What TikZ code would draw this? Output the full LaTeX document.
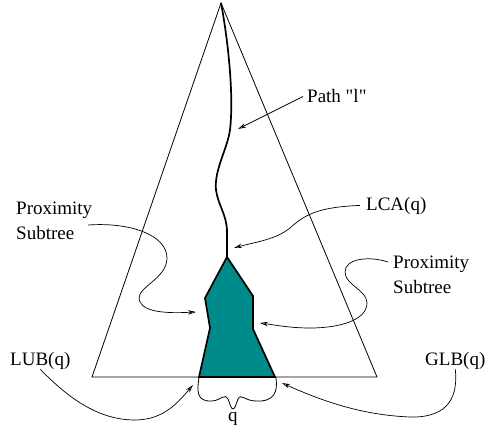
\documentclass[tikz,border=0pt]{standalone}
\usepackage{fontspec}
\setmainfont{Liberation Serif}
\usepackage{tikz}
\usetikzlibrary{arrows.meta,positioning}
\definecolor{subteal}{HTML}{008B8B}

\begin{document}
\begin{tikzpicture}[x=1pt,y=-1pt,
    lbl/.style={font=\fontsize{19}{25}\selectfont,anchor=base west,inner sep=0pt,align=left},
    callout/.style={line width=0.7pt,-{Stealth[open,length=8pt,width=4.5pt,inset=2.5pt]}}]
  \useasboundingbox (0,0) rectangle (486,430);
  % tree and proximity subtree
  \coordinate (apex) at (221,3); \coordinate (bl) at (92,377); \coordinate (br) at (377,377);
  \coordinate (lca) at (227,257);
  \draw[line width=0.8pt] (apex)--(bl)--(br)--cycle;
  \draw[line width=1.7pt] (apex) .. controls (228,40) and (234,95) .. (230,130)
    .. controls (227,150) and (214,170) .. (216,190)
    .. controls (218,205) and (227,215) .. (227,232) -- (lca);
  \draw[line width=1.7pt,fill=subteal] (lca)--(253,296)--(253,329)--(275,377)
    --(199,377)--(210,328)--(205,298)--cycle;
  % brace below q
  \draw[line width=0.8pt] (199,378) .. controls (197,390) and (196,402) .. (212,401)
    .. controls (222,400) and (224,393) .. (228,399) .. controls (230,404) and (231,409) .. (233,409)
    .. controls (235,409) and (236,404) .. (238,399) .. controls (241,393) and (245,401) .. (256,401)
    .. controls (274,402) and (278,392) .. (276,378);
  % labels
  \node[lbl] (pathlbl) at (307,103) {Path \textquotedbl l\textquotedbl};
  \node[lbl] (lcalbl) at (366,210) {LCA(q)};
  \node[lbl] (proxl) at (16,239) {Proximity\\Subtree};
  \node[lbl] (proxr) at (393,293) {Proximity\\Subtree};
  \node[lbl] (lublbl) at (10,365) {LUB(q)};
  \node[lbl] (glblbl) at (425,365) {GLB(q)};
  \node[lbl] (qlbl) at (228,421) {q};
  % arrow targets
  \coordinate (pathtip) at (238,129);
  \coordinate (lcatip) at (234,248);
  \coordinate (proxltip) at (196,312);
  \coordinate (proxrtip) at (260,323);
  \coordinate (lubtip) at (193,385);
  \coordinate (glbtip) at (282,383);
  \coordinate (proxlstart) at (88,225);
  \coordinate (proxrstart) at (388,262);
  % callouts
  \draw[callout] ([xshift=-4pt]pathlbl.west) -- (pathtip);
  \draw[callout] ([xshift=-6pt]lcalbl.west) .. controls (320,207) and (305,214) .. (290,228)
    .. controls (275,240) and (255,242) .. (lcatip);
  \draw[callout] (proxlstart) .. controls (130,222) and (167,235) .. (167,258)
    .. controls (167,280) and (133,288) .. (140,302) .. controls (146,314) and (175,313) .. (proxltip);
  \draw[callout] (proxrstart) .. controls (370,256) and (345,258) .. (345,272)
    .. controls (345,285) and (367,290) .. (367,303) .. controls (367,320) and (340,328) .. (310,328)
    .. controls (290,328) and (275,325) .. (proxrtip);
  \draw[callout] (lublbl.south) .. controls (70,400) and (100,420) .. (135,420)
    .. controls (165,420) and (180,400) .. (lubtip);
  \draw[callout] (glblbl.south) .. controls (458,395) and (450,418) .. (410,417)
    .. controls (360,415) and (320,400) .. (glbtip);
\end{tikzpicture}
\end{document}
